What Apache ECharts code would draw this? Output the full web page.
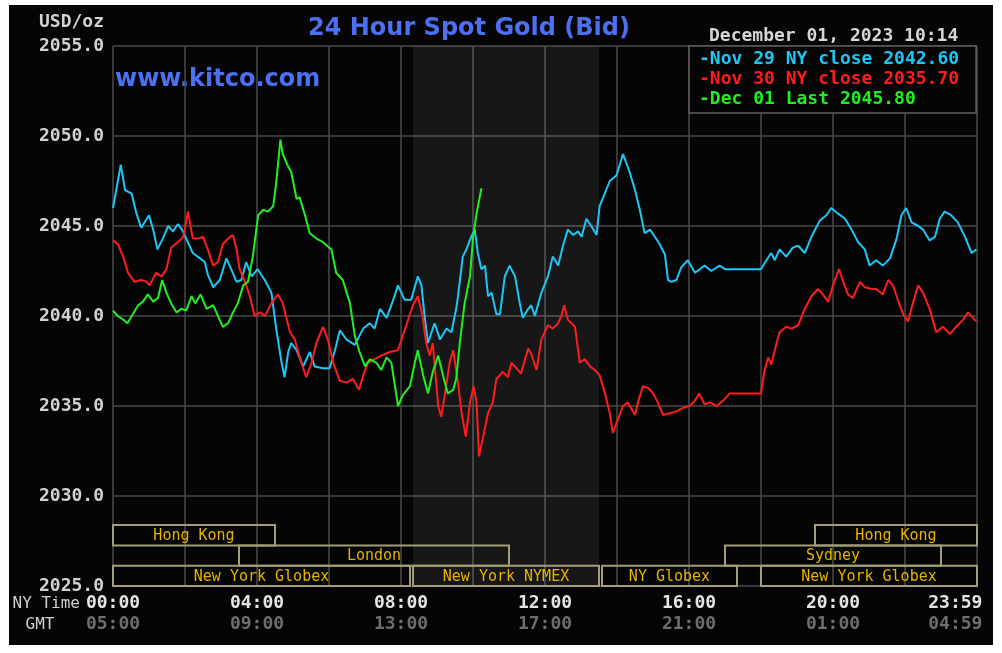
<!DOCTYPE html>
<html><head><meta charset="utf-8">
<script src="https://cdn.jsdelivr.net/npm/echarts@6.0.0/dist/echarts.min.js"></script>
<style>
html,body{margin:0;padding:0;background:#fff;}
#frame{position:absolute;left:9px;top:5px;width:984px;height:640px;background:#050505;}
#chart{position:absolute;left:0;top:0;width:1002px;height:653px;}
</style></head><body>
<div id="frame"></div><div id="chart"></div>
<script>
// ---- data (x = minutes after 00:00 NY time, y = USD/oz) ----
const titleText = '24 Hour Spot Gold (Bid)';
const siteText = 'www.kitco.com';
const dateText = 'December 01, 2023 10:14';
const unitText = 'USD/oz';

const seriesNames = ['Nov 29 NY close 2042.60', 'Nov 30 NY close 2035.70', 'Dec 01 Last 2045.80'];
const seriesColors = ['#1ec6f6', '#ff1c1c', '#22ee22'];

const nov29 = [[0,2046.0],[13,2048.4],[20,2047.0],[31,2046.8],[39,2045.7],[47,2044.9],[60,2045.6],[67,2044.8],[74,2043.7],[83,2044.3],[92,2045.0],[100,2044.7],[108,2045.1],[115,2044.8],[122,2044.3],[133,2043.5],[145,2043.2],[153,2043.0],[158,2042.3],[167,2041.6],[178,2042.0],[189,2043.2],[197,2042.6],[206,2041.9],[214,2042.0],[222,2043.0],[231,2042.2],[241,2042.6],[253,2042.0],[264,2041.3],[272,2039.3],[281,2037.4],[286,2036.6],[292,2038.0],[297,2038.5],[306,2038.1],[317,2037.2],[328,2038.0],[336,2037.2],[350,2037.1],[361,2037.1],[370,2038.1],[378,2039.2],[389,2038.7],[403,2038.4],[417,2039.3],[428,2039.6],[436,2039.3],[445,2040.4],[456,2039.9],[464,2040.6],[475,2041.7],[486,2040.9],[497,2040.9],[508,2042.2],[514,2041.7],[520,2039.8],[525,2038.5],[536,2039.6],[545,2038.7],[556,2039.3],[564,2039.1],[572,2040.4],[575,2041.1],[583,2043.3],[589,2043.7],[597,2044.4],[603,2044.8],[608,2043.5],[614,2042.6],[620,2042.8],[625,2041.1],[631,2041.3],[639,2040.1],[645,2040.1],[653,2042.2],[661,2042.8],[670,2042.2],[678,2040.7],[683,2039.9],[692,2040.4],[697,2040.6],[703,2040.0],[714,2041.3],[725,2042.2],[733,2043.3],[742,2042.8],[750,2043.9],[758,2044.8],[767,2044.5],[775,2044.7],[781,2044.4],[789,2045.4],[797,2045.0],[806,2044.5],[811,2046.1],[822,2047.0],[828,2047.5],[839,2047.8],[850,2049.0],[861,2048.0],[870,2047.0],[878,2045.9],[886,2044.6],[895,2044.8],[903,2044.4],[911,2044.0],[920,2043.4],[925,2042.0],[931,2041.9],[939,2042.0],[947,2042.7],[958,2043.1],[970,2042.4],[986,2042.8],[997,2042.5],[1011,2042.8],[1020,2042.6],[1080,2042.6],[1089,2043.1],[1097,2043.5],[1103,2043.1],[1111,2043.7],[1122,2043.3],[1133,2043.8],[1142,2043.9],[1153,2043.5],[1164,2044.4],[1178,2045.3],[1189,2045.6],[1197,2046.0],[1208,2045.7],[1220,2045.4],[1231,2044.8],[1242,2044.1],[1253,2043.7],[1261,2042.8],[1272,2043.1],[1283,2042.8],[1295,2043.2],[1306,2044.3],[1314,2045.6],[1322,2046.0],[1331,2045.2],[1342,2045.0],[1350,2044.8],[1361,2044.2],[1370,2044.4],[1378,2045.4],[1386,2045.8],[1397,2045.6],[1408,2045.2],[1420,2044.4],[1431,2043.5],[1439,2043.7]];

const nov30 = [[0,2044.2],[8,2044.0],[17,2043.3],[25,2042.4],[36,2041.9],[47,2042.0],[56,2041.9],[61,2041.7],[72,2042.4],[81,2042.2],[89,2042.6],[97,2043.8],[108,2044.1],[117,2044.4],[125,2045.8],[133,2044.3],[142,2044.3],[150,2044.4],[158,2043.7],[167,2042.8],[175,2043.0],[183,2044.0],[195,2044.4],[200,2044.5],[206,2043.7],[211,2042.6],[220,2041.9],[228,2041.1],[236,2040.0],[245,2040.2],[253,2040.0],[264,2040.7],[275,2041.2],[283,2040.7],[295,2039.1],[303,2038.7],[314,2037.4],[322,2036.6],[331,2037.4],[339,2038.5],[350,2039.4],[358,2038.7],[367,2037.4],[378,2036.4],[389,2036.3],[400,2036.5],[410,2035.9],[417,2036.7],[425,2037.4],[436,2037.6],[447,2037.8],[461,2038.0],[475,2038.1],[483,2038.9],[492,2039.8],[500,2040.6],[508,2041.1],[516,2040.0],[522,2038.5],[528,2037.8],[533,2038.5],[542,2035.0],[547,2034.4],[553,2035.6],[561,2037.4],[567,2038.1],[575,2036.3],[581,2034.6],[588,2033.3],[595,2035.2],[601,2036.1],[606,2035.2],[610,2032.2],[617,2033.3],[625,2034.6],[633,2035.2],[639,2036.5],[650,2036.9],[658,2036.6],[664,2037.4],[675,2037.0],[680,2036.8],[692,2038.2],[697,2037.9],[706,2037.0],[714,2038.7],[725,2039.5],[733,2039.3],[742,2039.6],[747,2040.0],[752,2040.6],[758,2039.8],[770,2039.4],[778,2037.4],[786,2037.6],[795,2037.2],[803,2037.0],[811,2036.7],[820,2035.7],[828,2034.6],[833,2033.5],[842,2034.3],[850,2035.0],[858,2035.2],[870,2034.5],[875,2035.2],[883,2036.1],[892,2036.0],[900,2035.7],[908,2035.2],[917,2034.5],[928,2034.6],[939,2034.7],[950,2034.9],[961,2035.0],[970,2035.3],[977,2035.7],[986,2035.1],[995,2035.2],[1006,2035.0],[1017,2035.3],[1028,2035.7],[1080,2035.7],[1086,2037.0],[1092,2037.7],[1097,2037.3],[1106,2038.5],[1111,2039.1],[1122,2039.4],[1131,2039.3],[1142,2039.5],[1153,2040.4],[1164,2041.1],[1175,2041.5],[1183,2041.2],[1192,2040.8],[1200,2041.7],[1210,2042.6],[1217,2041.9],[1225,2041.2],[1233,2041.0],[1245,2041.9],[1253,2041.6],[1264,2041.5],[1272,2041.5],[1283,2041.2],[1292,2042.0],[1300,2041.7],[1308,2040.9],[1317,2040.1],[1325,2039.7],[1333,2040.7],[1342,2041.7],[1350,2041.3],[1361,2040.4],[1372,2039.1],[1383,2039.4],[1395,2039.0],[1405,2039.4],[1417,2039.8],[1425,2040.2],[1439,2039.7]];

const dec01 = [[0,2040.3],[8,2040.0],[17,2039.8],[24,2039.6],[33,2040.1],[42,2040.6],[50,2040.8],[58,2041.2],[67,2040.8],[75,2041.0],[82,2042.0],[89,2041.3],[97,2040.7],[106,2040.2],[114,2040.4],[122,2040.3],[131,2041.1],[137,2040.7],[146,2041.2],[156,2040.4],[167,2040.6],[175,2040.0],[183,2039.4],[192,2039.6],[200,2040.2],[208,2040.7],[217,2041.7],[225,2041.9],[233,2043.3],[242,2045.6],[250,2045.9],[258,2045.8],[267,2046.1],[272,2047.4],[279,2049.8],[283,2049.0],[292,2048.3],[297,2048.0],[306,2046.5],[311,2046.6],[320,2045.6],[328,2044.6],[339,2044.3],[350,2044.1],[364,2043.7],[372,2042.4],[383,2042.0],[395,2040.7],[403,2038.9],[411,2038.0],[420,2037.2],[428,2037.6],[439,2037.4],[447,2037.0],[456,2037.7],[464,2037.4],[475,2035.0],[483,2035.6],[495,2036.1],[503,2037.4],[508,2038.1],[517,2036.7],[525,2035.7],[533,2036.9],[542,2037.8],[550,2036.7],[558,2035.7],[567,2035.9],[572,2036.5],[578,2038.5],[586,2040.7],[595,2042.2],[600,2044.3],[606,2045.7],[614,2047.1]];

// trading sessions: [start minute, end minute, row]
const sessionNames = ['Hong Kong', 'Hong Kong', 'London', 'Sydney', 'New York Globex', 'New York NYMEX', 'NY Globex', 'New York Globex'];
const sessionSpans = [[0,270,0],[1170,1440,0],[210,660,1],[1020,1380,1],[0,495,2],[500,810,2],[815,1040,2],[1080,1440,2]];
const nymexHours = [500, 810];

const tickMinutes = [0, 240, 480, 720, 960, 1200, 1440];
const nyLabels = ['00:00', '04:00', '08:00', '12:00', '16:00', '20:00', '23:59'];
const gmtLabels = ['05:00', '09:00', '13:00', '17:00', '21:00', '01:00', '04:59'];

// ---- chart ----
const MONO = '"DejaVu Sans Mono", "Liberation Mono", monospace';
const chart = echarts.init(document.getElementById('chart'), null, {renderer: 'canvas'});

const lineSeries = [nov29, nov30, dec01].map((d, i) => ({
  name: seriesNames[i], type: 'line', data: d, showSymbol: false, symbol: 'none',
  lineStyle: {color: seriesColors[i], width: 2}, itemStyle: {color: seriesColors[i]},
  z: 3, silent: true
}));

chart.setOption({
  backgroundColor: 'transparent',
  animation: false,
  grid: {left: 113, right: 25, top: 46, bottom: 67, containLabel: false, outerBoundsMode: 'none'},
  xAxis: {
    type: 'value', min: 0, max: 1440, interval: 120,
    axisLine: {show: false}, axisTick: {show: false},
    splitLine: {show: true, lineStyle: {color: '#4a4a4a', width: 1.5}},
    axisLabel: {
      show: true, margin: 7, showMaxLabel: true, showMinLabel: true,
      formatter: v => {
        const i = tickMinutes.indexOf(v);
        if (i < 0) return '';
        const pad = i === tickMinutes.length - 1 ? '    ' : '';
        return '{a|' + nyLabels[i] + pad + '}\n{b|' + gmtLabels[i] + pad + '}';
      },
      rich: {
        a: {fontFamily: MONO, fontWeight: 'bold', fontSize: 18, color: '#e4e4e4', lineHeight: 21},
        b: {fontFamily: MONO, fontWeight: 'bold', fontSize: 18, color: '#6e6e6e', lineHeight: 21}
      }
    }
  },
  yAxis: {
    type: 'value', min: 2025, max: 2055, interval: 5,
    axisLine: {show: false}, axisTick: {show: false},
    splitLine: {show: true, lineStyle: {color: '#4a4a4a', width: 1.5}},
    axisLabel: {margin: 9, fontFamily: MONO, fontWeight: 'bold', fontSize: 18, color: '#d2d2d2', formatter: v => v.toFixed(1)}
  },
  legend: {
    orient: 'vertical', left: 689, top: 46, selectedMode: false,
    itemWidth: 0, itemHeight: 14, itemGap: 2, icon: 'rect',
    padding: [4, 17, 5, 5],
    backgroundColor: '#050505', borderColor: '#606060', borderWidth: 1.5,
    formatter: n => '-' + n,
    textStyle: {fontFamily: MONO, fontWeight: 'bold', fontSize: 18, lineHeight: 17},
    data: seriesNames.map((n, i) => ({name: n, textStyle: {color: seriesColors[i]}, itemStyle: {opacity: 0}}))
  },
  graphic: [
    {type: 'text', style: {text: titleText, x: 469, y: 29, align: 'center', verticalAlign: 'middle', fill: '#4d6ff2', font: 'bold 24px "DejaVu Sans", sans-serif'}},
    {type: 'text', style: {text: siteText, x: 115, y: 80, align: 'left', verticalAlign: 'middle', fill: '#4d6ff2', font: 'bold 24px "DejaVu Sans", sans-serif'}},
    {type: 'text', style: {text: dateText, x: 709, y: 36, align: 'left', verticalAlign: 'middle', fill: '#d6d6d6', font: 'bold 18px ' + MONO}},
    {type: 'text', style: {text: unitText, x: 104, y: 22, align: 'right', verticalAlign: 'middle', fill: '#d2d2d2', font: 'bold 18px ' + MONO}},
    {type: 'text', style: {text: 'NY Time', x: 80, y: 604, align: 'right', verticalAlign: 'middle', fill: '#d0d0d0', font: '16px ' + MONO}},
    {type: 'text', style: {text: 'GMT', x: 40, y: 625, align: 'center', verticalAlign: 'middle', fill: '#d0d0d0', font: '16px ' + MONO}}
  ],
  series: [
    {
      type: 'custom', name: 'sessions', silent: true, z: 1,
      data: sessionSpans,
      encode: {x: [0, 1], y: 2},
      renderItem: (params, api) => {
        const a = api.coord([api.value(0), 2025]);
        const b = api.coord([api.value(1), 2025]);
        const h = 20.3;
        const y0 = a[1] - (3 - api.value(2)) * h;
        return {type: 'group', children: [
          {type: 'rect', shape: {x: a[0], y: y0, width: b[0] - a[0], height: h},
           style: {fill: null, stroke: '#a29f78', lineWidth: 2}},
          {type: 'text', style: {text: sessionNames[params.dataIndex], x: (a[0] + b[0]) / 2, y: y0 + h / 2 + 1,
            align: 'center', verticalAlign: 'middle', fill: '#e6b400', font: '15px ' + MONO}}
        ]};
      },
      markArea: {
        silent: true,
        itemStyle: {color: 'rgba(255,255,255,0.075)'},
        data: [[{xAxis: nymexHours[0]}, {xAxis: nymexHours[1]}]]
      }
    },
    ...lineSeries
  ]
});
</script>
</body></html>
